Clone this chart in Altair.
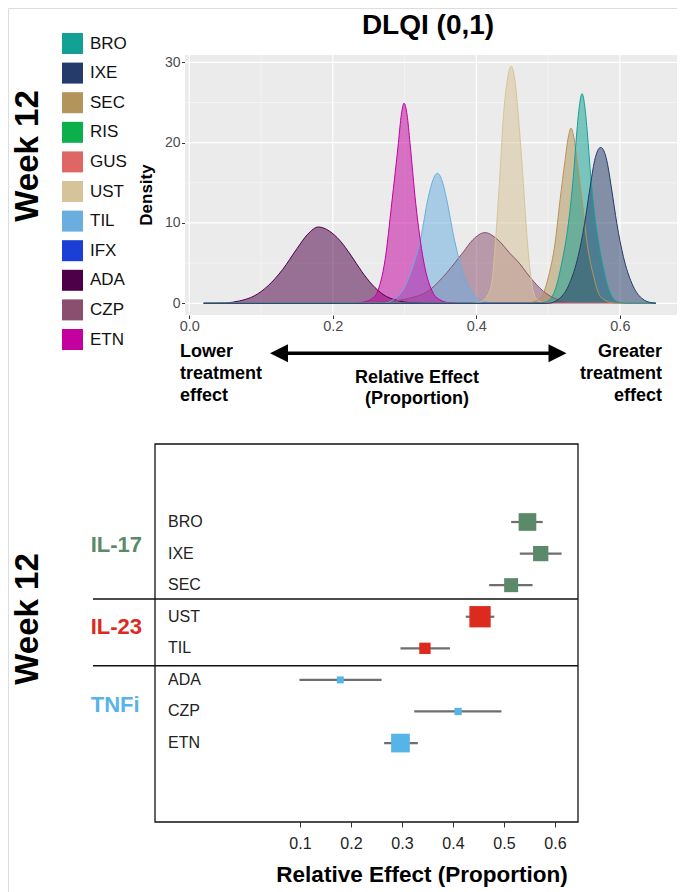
import altair as alt
import pandas as pd

FONT = "Liberation Sans"

# ---------------- legend / colours ----------------
LEGEND_DRUGS = ["BRO", "IXE", "SEC", "RIS", "GUS", "UST", "TIL", "IFX", "ADA", "CZP", "ETN"]
LEGEND_COLORS = ["#13a195", "#253b6a", "#b3945a", "#0bb04a", "#e06666", "#d6c39a",
                 "#6aaee0", "#1b3fd6", "#4d0047", "#8a4f6e", "#c4009f"]

# ---------------- density curves ----------------
ADA_X = [0.02, 0.05, 0.07, 0.09, 0.11, 0.13, 0.15, 0.165, 0.18, 0.195, 0.21, 0.225, 0.24, 0.255, 0.27, 0.29, 0.31, 0.35, 0.65]
ADA_Y = [0, 0.05, 0.3, 0.9, 2.2, 4.2, 6.8, 8.6, 9.5, 9.0, 7.8, 6.0, 4.0, 2.3, 1.1, 0.35, 0.08, 0, 0]

CZP_X = [0.02, 0.24, 0.27, 0.30, 0.3355, 0.3587, 0.3819, 0.395, 0.412, 0.43, 0.447, 0.4608, 0.47, 0.484, 0.4934, 0.5027, 0.515, 0.53, 0.55, 0.65]
CZP_Y = [0, 0, 0.15, 0.5, 1.7, 3.8, 6.4, 7.9, 8.8, 7.9, 6.2, 4.9, 3.8, 2.3, 1.5, 0.9, 0.4, 0.12, 0, 0]

TIL_X = [0.02, 0.27, 0.285, 0.30, 0.31, 0.3225, 0.333, 0.3397, 0.3457, 0.3517, 0.358, 0.369, 0.38, 0.39, 0.40, 0.415, 0.43, 0.65]
TIL_Y = [0, 0, 0.5, 2.0, 4.2, 8.1, 13.2, 15.4, 16.2, 15.4, 13.2, 8.1, 4.2, 2.0, 0.7, 0.15, 0, 0]

ETN_X = [0.02, 0.23, 0.245, 0.255, 0.2612, 0.267, 0.2728, 0.2821, 0.2913, 0.2955, 0.2992, 0.3034, 0.3076, 0.3155, 0.3262, 0.340, 0.35, 0.36, 0.38, 0.65]
ETN_Y = [0, 0, 0.2, 0.6, 1.24, 2.8, 5.4, 12.45, 19.9, 23.5, 24.9, 23.5, 19.9, 12.45, 5.4, 1.24, 0.4, 0.1, 0, 0]

UST_X = [0.02, 0.39, 0.405, 0.415, 0.4214, 0.4275, 0.4321, 0.4377, 0.4430, 0.4484, 0.4538, 0.4586, 0.4655, 0.4702, 0.4772, 0.4842, 0.495, 0.51, 0.65]
UST_Y = [0, 0, 0.15, 0.9, 2.5, 8.7, 14.9, 23.2, 27.7, 29.5, 27.7, 23.2, 14.9, 8.7, 2.5, 0.5, 0.05, 0, 0]

SEC_X = [0.02, 0.47, 0.48, 0.4911, 0.5004, 0.5097, 0.5167, 0.5236, 0.5280, 0.532, 0.536, 0.5404, 0.5473, 0.5543, 0.5636, 0.5729, 0.584, 0.595, 0.65]
SEC_Y = [0, 0, 0.2, 0.83, 3.3, 7.5, 12.9, 17.8, 20.6, 21.8, 20.6, 17.8, 12.9, 7.5, 3.3, 0.83, 0.2, 0, 0]

BRO_X = [0.02, 0.485, 0.498, 0.5097, 0.519, 0.5283, 0.5352, 0.5399, 0.5436, 0.5473, 0.551, 0.5547, 0.5594, 0.5663, 0.5756, 0.5849, 0.5966, 0.61, 0.65]
BRO_Y = [0, 0, 0.2, 1.66, 5.0, 9.96, 15.8, 21.2, 24.6, 26.1, 24.6, 21.2, 15.8, 9.96, 5.0, 1.66, 0.2, 0, 0]

IXE_X = [0.02, 0.50, 0.5161, 0.53, 0.5417, 0.5509, 0.5579, 0.5649, 0.569, 0.5733, 0.5776, 0.5817, 0.5887, 0.5957, 0.6049, 0.6166, 0.6305, 0.645, 0.65]
IXE_Y = [0, 0, 0.62, 2.5, 5.8, 9.96, 14.1, 17.8, 19.0, 19.4, 19.0, 17.8, 14.1, 9.96, 5.8, 2.5, 0.62, 0.05, 0]

DRAW_ORDER = ["ADA", "CZP", "TIL", "ETN", "UST", "SEC", "BRO", "IXE"]
CURVES = {"ADA": (ADA_X, ADA_Y), "CZP": (CZP_X, CZP_Y), "TIL": (TIL_X, TIL_Y), "ETN": (ETN_X, ETN_Y),
          "UST": (UST_X, UST_Y), "SEC": (SEC_X, SEC_Y), "BRO": (BRO_X, BRO_Y), "IXE": (IXE_X, IXE_Y)}

DENS_X_TICKS = [0.0, 0.2, 0.4, 0.6]
DENS_X_MINOR = [0.1, 0.3, 0.5]
DENS_Y_TICKS = [0, 10, 20, 30]
DENS_Y_MINOR = [5, 15, 25]

# ---------------- forest plot ----------------
FOREST_DRUGS = ["BRO", "IXE", "SEC", "UST", "TIL", "ADA", "CZP", "ETN"]
FOREST_CLASS = ["IL-17", "IL-17", "IL-17", "IL-23", "IL-23", "TNFi", "TNFi", "TNFi"]
FOREST_EST = [0.546, 0.572, 0.514, 0.453, 0.345, 0.179, 0.410, 0.297]
FOREST_LO = [0.514, 0.531, 0.471, 0.425, 0.297, 0.099, 0.324, 0.265]
FOREST_HI = [0.576, 0.613, 0.556, 0.481, 0.394, 0.260, 0.495, 0.331]
FOREST_WEIGHT = [313, 234, 196, 454, 128, 49, 53, 350]
FOREST_ROW = [1, 2, 3, 4, 5, 6, 7, 8]
FOREST_X_TICKS = [0.1, 0.2, 0.3, 0.4, 0.5, 0.6]

CLASSES = ["IL-17", "IL-23", "TNFi"]
CLASS_COLORS = ["#5a8a69", "#dc2a1f", "#57b4e8"]
CLASS_LABEL_ROW = [1.74, 4.33, 6.8]
SEPARATOR_ROWS = [3.44, 5.55]

# ---------------- layout ----------------
W, H = 669, 884
DX_DOMAIN, DX_RANGE = [-0.006, 0.681], [177, 670]
DY_DOMAIN, DY_RANGE = [-1.456, 30.91], [307, 47]
FX_DOMAIN, FX_RANGE = [-0.1843, 0.6451], [147, 570]
FY_DOMAIN, FY_RANGE = [-1.47, 10.5], [436, 814]

dx = alt.Scale(domain=DX_DOMAIN, range=DX_RANGE, nice=False, zero=False)
dy = alt.Scale(domain=DY_DOMAIN, range=DY_RANGE, nice=False, zero=False)
fx = alt.Scale(domain=FX_DOMAIN, range=FX_RANGE, nice=False, zero=False)
fy = alt.Scale(domain=FY_DOMAIN, range=FY_RANGE, nice=False, zero=False)
class_scale = alt.Scale(domain=CLASSES, range=CLASS_COLORS)

rows = []
for d in DRAW_ORDER:
    xs, ys = CURVES[d]
    for x, y in zip(xs, ys):
        rows.append({"drug": d, "x": x, "y": y})
dens = pd.DataFrame(rows)

forest = pd.DataFrame({"drug": FOREST_DRUGS, "cls": FOREST_CLASS, "est": FOREST_EST,
                       "lo": FOREST_LO, "hi": FOREST_HI, "weight": FOREST_WEIGHT, "row": FOREST_ROW})
groups = pd.DataFrame({"cls": CLASSES, "row": CLASS_LABEL_ROW})
one = pd.DataFrame({"a": [0]})

# ---------------- density panel ----------------
panel = alt.Chart(one).mark_rect(color="#ebebeb").encode(
    x=alt.X(datum=DX_DOMAIN[0], scale=dx, axis=None), x2=alt.X2(datum=DX_DOMAIN[1]),
    y=alt.Y(datum=DY_DOMAIN[0], scale=dy, axis=None), y2=alt.Y2(datum=DY_DOMAIN[1]))

def vgrid(vals, w, op):
    return alt.Chart(pd.DataFrame({"v": vals})).mark_rule(color="white", strokeWidth=w, opacity=op).encode(
        x=alt.X("v:Q", scale=dx, axis=None),
        y=alt.Y(datum=DY_DOMAIN[0], scale=dy, axis=None), y2=alt.Y2(datum=DY_DOMAIN[1]))

def hgrid(vals, w, op):
    return alt.Chart(pd.DataFrame({"v": vals})).mark_rule(color="white", strokeWidth=w, opacity=op).encode(
        y=alt.Y("v:Q", scale=dy, axis=None),
        x=alt.X(datum=DX_DOMAIN[0], scale=dx, axis=None), x2=alt.X2(datum=DX_DOMAIN[1]))

area = alt.Chart(dens).mark_area(interpolate="monotone", fillOpacity=0.52).encode(
    x=alt.X("x:Q", scale=dx, axis=alt.Axis(values=DENS_X_TICKS, format=".1f", orient="bottom",
            offset=DY_RANGE[0] - H, domain=False, grid=False, tickSize=3.5, tickColor="#333",
            labelFont=FONT, labelFontSize=14.5, labelColor="#4d4d4d", labelPadding=1,
            labelFlush=False, title=None)),
    y=alt.Y("y:Q", stack=None, scale=dy, axis=alt.Axis(values=DENS_Y_TICKS, orient="left",
            offset=-DX_RANGE[0], domain=False, grid=False, tickSize=3.5, tickColor="#333",
            labelFont=FONT, labelFontSize=14, labelColor="#4d4d4d", labelPadding=1.5, title=None)),
    color=alt.Color("drug:N", scale=alt.Scale(domain=LEGEND_DRUGS, range=LEGEND_COLORS),
                    legend=alt.Legend(orient="none", legendX=54, legendY=25, title=None,
                                      symbolType="square", symbolSize=441, symbolOpacity=1,
                                      symbolStrokeWidth=0, labelFont=FONT, labelFontSize=17,
                                      labelColor="#111", labelOffset=7, rowPadding=8.6, padding=0)),
)
outline = alt.Chart(dens).mark_line(interpolate="monotone", strokeWidth=1).encode(
    x=alt.X("x:Q", scale=dx, axis=None),
    y=alt.Y("y:Q", scale=dy, axis=None),
    color=alt.Color("drug:N", scale=alt.Scale(domain=LEGEND_DRUGS, range=LEGEND_COLORS), legend=None),
)

def label(text, x, y, size, bold=True, align="center", baseline="alphabetic", angle=0, line_height=None):
    kw = dict(text=text, fontSize=size, fontWeight="bold" if bold else "normal", align=align,
              baseline=baseline, font=FONT, color="#000")
    if angle:
        kw["angle"] = angle
    if line_height:
        kw["lineHeight"] = line_height
    return alt.Chart(one).mark_text(**kw).encode(x=alt.value(x), y=alt.value(y))

title = label("DLQI (0,1)", 420, 26, 28)
week_top = label("Week 12", 20, 148, 33, baseline="middle", angle=270)
week_bot = label("Week 12", 20, 611, 33, baseline="middle", angle=270)
dens_title = label("Density", 139, 187, 17, baseline="middle", angle=270)

lower = label(["Lower", "treatment", "effect"], 172, 348.7, 18, align="left", line_height=22)
greater = label(["Greater", "treatment", "effect"], 654, 348.7, 18, align="right", line_height=22)
mid = label(["Relative Effect", "(Proportion)"], 409, 375.3, 18, line_height=21)

arrow_line = alt.Chart(one).mark_rule(color="#000", strokeWidth=3.5).encode(
    x=alt.value(271), x2=alt.value(549.5), y=alt.value(345.3))
arrow_l = alt.Chart(one).mark_point(shape="M-1,0L1,-1L1,1Z", filled=True, size=324, color="#000", opacity=1).encode(
    x=alt.value(271), y=alt.value(345.3))
arrow_r = alt.Chart(one).mark_point(shape="M1,0L-1,-1L-1,1Z", filled=True, size=324, color="#000", opacity=1).encode(
    x=alt.value(549.5), y=alt.value(345.3))

# ---------------- forest panel ----------------
box = alt.Chart(one).mark_rect(fillOpacity=0, stroke="#111", strokeWidth=1.3).encode(
    x=alt.X(datum=FX_DOMAIN[0], scale=fx, axis=None), x2=alt.X2(datum=FX_DOMAIN[1]),
    y=alt.Y(datum=FY_DOMAIN[0], scale=fy, axis=None), y2=alt.Y2(datum=FY_DOMAIN[1]))

seps = alt.Chart(pd.DataFrame({"v": SEPARATOR_ROWS})).mark_rule(color="#111", strokeWidth=1.5).encode(
    y=alt.Y("v:Q", scale=fy, axis=None), x=alt.value(85), x2=alt.value(FX_RANGE[1]))

ci = alt.Chart(forest).mark_rule(color="#6e6e6e", strokeWidth=2.2).encode(
    x=alt.X("lo:Q", scale=fx, axis=alt.Axis(values=FOREST_X_TICKS, format=".1f", orient="bottom",
            offset=FY_RANGE[1] - H, domain=False, grid=False, tickSize=5, tickColor="#333",
            labelFont=FONT, labelFontSize=16, labelColor="#222", labelPadding=8,
            labelFlush=False, title=None)),
    x2="hi:Q",
    y=alt.Y("row:Q", scale=fy, axis=None))

squares = alt.Chart(forest).mark_point(shape="square", filled=True, opacity=1, strokeWidth=0).encode(
    x=alt.X("est:Q", scale=fx, axis=None),
    y=alt.Y("row:Q", scale=fy, axis=None),
    size=alt.Size("weight:Q", scale=alt.Scale(type="linear", domain=[0, 500], range=[0, 500]), legend=None),
    fill=alt.Fill("cls:N", scale=class_scale, legend=None))

drug_labels = alt.Chart(forest).mark_text(align="left", baseline="middle", fontSize=16, font=FONT,
                                          color="#222").encode(
    x=alt.value(160), y=alt.Y("row:Q", scale=fy, axis=None), text="drug:N")

group_labels = alt.Chart(groups).mark_text(align="left", baseline="middle", fontSize=22,
                                           fontWeight="bold", font=FONT).encode(
    x=alt.value(82.7), y=alt.Y("row:Q", scale=fy, axis=None), text="cls:N",
    fill=alt.Fill("cls:N", scale=class_scale, legend=None))

bottom_title = label("Relative Effect (Proportion)", 414, 874, 22.5)

chart = alt.layer(
    panel, vgrid(DENS_X_MINOR, 0.6, 0.7), hgrid(DENS_Y_MINOR, 0.6, 0.7),
    vgrid(DENS_X_TICKS, 1.2, 1), hgrid(DENS_Y_TICKS, 1.2, 1),
    area, outline,
    title, week_top, week_bot, dens_title, lower, greater, mid, arrow_line, arrow_l, arrow_r,
    box, seps, ci, squares, drug_labels, group_labels, bottom_title,
).resolve_scale(x="independent", y="independent").properties(
    width=W, height=H, autosize=alt.AutoSizeParams(type="none"), padding=0
).configure_view(stroke=None).configure(font=FONT)

chart.save("out.html", embed_options={"renderer": "svg", "actions": False})
